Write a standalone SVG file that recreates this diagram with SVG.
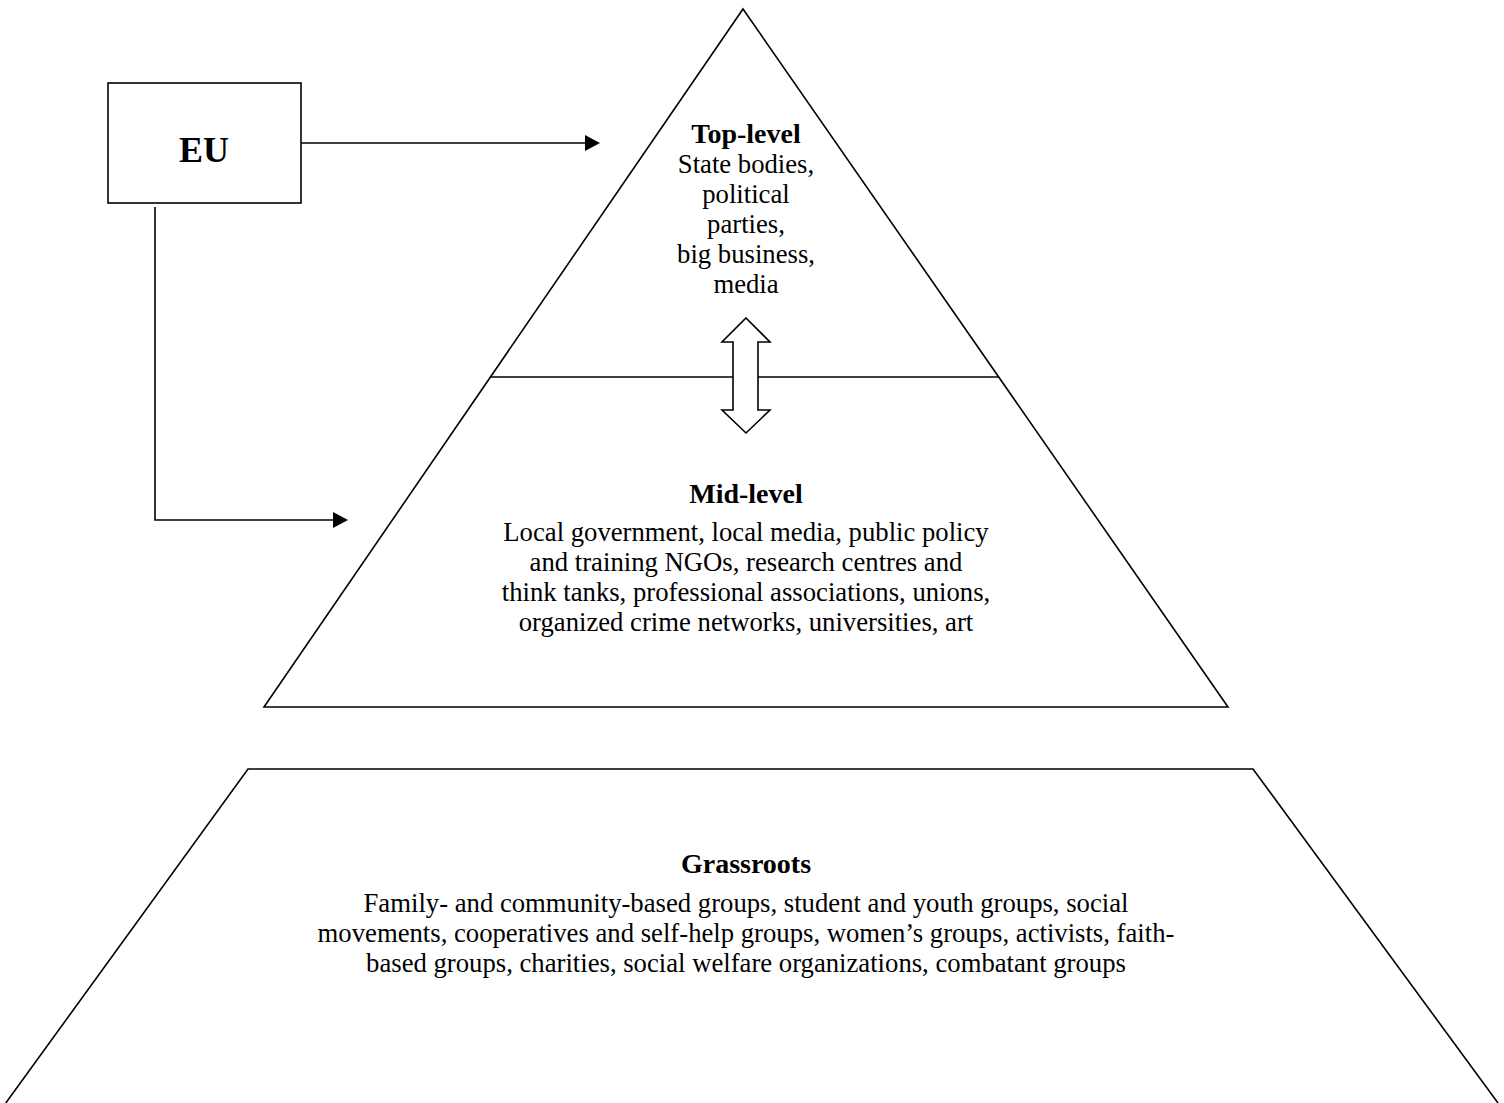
<svg xmlns="http://www.w3.org/2000/svg" width="1504" height="1103" viewBox="0 0 1504 1103">
<style>
.shape{fill:none;stroke:#000;stroke-width:1.6}
.box{fill:#fff;stroke:#000;stroke-width:1.6}
.t{font-family:"Liberation Serif","Times New Roman",serif;font-size:26.7px;fill:#000;text-anchor:middle}
.h{font-weight:bold;font-size:28px}
.eu{font-weight:bold;font-size:36px}
.conn{fill:none;stroke:#000;stroke-width:1.6}
</style>
<defs>
<marker id="ah" markerUnits="userSpaceOnUse" markerWidth="16" markerHeight="16" refX="0" refY="8" orient="auto" overflow="visible">
<path d="M0,0 L15,8 L0,16 Z" fill="#000"/>
</marker>
</defs>
<rect width="1504" height="1103" fill="#fff"/>
<g id="pyramid">
<path class="shape" d="M743,9 L1228,707 L264,707 Z"/>
<line class="shape" x1="491" y1="377" x2="999" y2="377"/>
</g>
<g id="grassroots-base">
<path class="shape" d="M5.8,1103 L248,769 L1253,769 L1498,1103"/>
</g>
<g id="eu">
<rect class="box" x="108" y="83" width="193" height="120"/>
<text class="t eu" x="204" y="162">EU</text>
</g>
<g id="top-level">
<text class="t h" x="746" y="143">Top-level</text>
<text class="t" x="746" y="173">State bodies,</text>
<text class="t" x="746" y="203">political</text>
<text class="t" x="746" y="233">parties,</text>
<text class="t" x="746" y="263">big business,</text>
<text class="t" x="746" y="293">media</text>
</g>
<g id="mid-level">
<text class="t h" x="746" y="503">Mid-level</text>
<text class="t" x="746" y="541">Local government, local media, public policy</text>
<text class="t" x="746" y="571">and training NGOs, research centres and</text>
<text class="t" x="746" y="601">think tanks, professional associations, unions,</text>
<text class="t" x="746" y="631">organized crime networks, universities, art</text>
</g>
<g id="grassroots">
<text class="t h" x="746" y="873">Grassroots</text>
<text class="t" x="746" y="912">Family- and community-based groups, student and youth groups, social</text>
<text class="t" x="746" y="942">movements, cooperatives and self-help groups, women’s groups, activists, faith-</text>
<text class="t" x="746" y="972">based groups, charities, social welfare organizations, combatant groups</text>
</g>
<g id="connectors">
<line class="conn" x1="301" y1="143" x2="585" y2="143" marker-end="url(#ah)"/>
<polyline class="conn" points="155,207 155,520 333,520" marker-end="url(#ah)"/>
<path class="box" d="M746,318 L770,342 L758,342 L758,410 L770,410 L746,433 L722,410 L733,410 L733,342 L722,342 Z"/>
</g>
</svg>
